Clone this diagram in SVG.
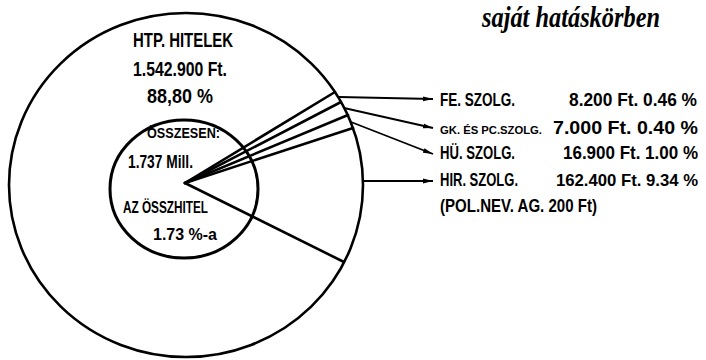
<svg xmlns="http://www.w3.org/2000/svg" width="706" height="360" viewBox="0 0 706 360">
<style>
.bg{fill:#fff}
.ring{fill:none;stroke:#000;stroke-width:2.6}
.inner{fill:none;stroke:#000;stroke-width:3}
.slice{stroke:#000;stroke-width:2.6;fill:none;stroke-linecap:round}
.lead{stroke:#000;stroke-width:1.8;fill:none}
.t{font-family:"Liberation Sans","DejaVu Sans",sans-serif;font-weight:bold;fill:#000}
.title{font-family:"Liberation Serif","DejaVu Serif",serif;font-weight:bold;font-style:italic;fill:#000}
</style>
<defs>
<marker id="arr" viewBox="0 0 10 6" refX="10" refY="3" markerWidth="10" markerHeight="6" markerUnits="userSpaceOnUse" orient="auto">
<path d="M0,0.6 L10,3 L0,5.4 Z" fill="#000"/>
</marker>
</defs>
<rect class="bg" x="0" y="0" width="706" height="360"/>
<text class="title" x="482" y="27" font-size="29" textLength="178" lengthAdjust="spacingAndGlyphs">saját hatáskörben</text>
<g id="pie-outer">
<ellipse class="ring" cx="186" cy="185" rx="177" ry="172"/>
<text class="t" x="133" y="47" font-size="20" textLength="100" lengthAdjust="spacingAndGlyphs">HTP. HITELEK</text>
<text class="t" x="133" y="76" font-size="20" textLength="94" lengthAdjust="spacingAndGlyphs">1.542.900 Ft.</text>
<text class="t" x="147" y="103" font-size="20" textLength="66" lengthAdjust="spacingAndGlyphs">88,80 %</text>
</g>
<g id="pie-inner">
<ellipse class="inner" cx="184" cy="189" rx="74" ry="69"/>
<text class="t" x="147" y="138" font-size="15" textLength="73" lengthAdjust="spacingAndGlyphs">ÖSSZESEN:</text>
<text class="t" x="128" y="168" font-size="18" textLength="65" lengthAdjust="spacingAndGlyphs">1.737 Mill.</text>
<text class="t" x="123" y="213" font-size="17" textLength="85" lengthAdjust="spacingAndGlyphs">AZ ÖSSZHITEL</text>
<text class="t" x="153" y="240" font-size="16" textLength="64" lengthAdjust="spacingAndGlyphs">1.73 %-a</text>
</g>
<g id="slices">
<line class="slice" x1="185" y1="183" x2="335" y2="92"/>
<line class="slice" x1="185" y1="183" x2="341" y2="102"/>
<line class="slice" x1="185" y1="183" x2="348" y2="115"/>
<line class="slice" x1="185" y1="183" x2="353" y2="128"/>
<line class="slice" x1="185" y1="183" x2="344" y2="262"/>
</g>
<g id="connectors">
<line class="lead" x1="339" y1="97" x2="433" y2="99" marker-end="url(#arr)"/>
<line class="lead" x1="344" y1="108" x2="433" y2="128" marker-end="url(#arr)"/>
<line class="lead" x1="351" y1="122" x2="433" y2="154" marker-end="url(#arr)"/>
<line class="lead" x1="363" y1="181" x2="433" y2="181" marker-end="url(#arr)"/>
</g>
<g id="label-fe">
<text class="t" x="440" y="106" font-size="19" textLength="75" lengthAdjust="spacingAndGlyphs">FE. SZOLG.</text>
<text class="t" x="569" y="106" font-size="18" textLength="128" lengthAdjust="spacingAndGlyphs">8.200 Ft. 0.46 %</text>
</g>
<g id="label-gk">
<text class="t" x="440" y="134" font-size="11.5" textLength="102" lengthAdjust="spacingAndGlyphs">GK. ÉS PC.SZOLG.</text>
<text class="t" x="553" y="134" font-size="18" textLength="145" lengthAdjust="spacingAndGlyphs">7.000 Ft. 0.40 %</text>
</g>
<g id="label-hu">
<text class="t" x="440" y="159" font-size="19" textLength="75" lengthAdjust="spacingAndGlyphs">HÜ. SZOLG.</text>
<text class="t" x="563" y="159" font-size="17.5" textLength="135" lengthAdjust="spacingAndGlyphs">16.900 Ft. 1.00 %</text>
</g>
<g id="label-hir">
<text class="t" x="440" y="186" font-size="19" textLength="78" lengthAdjust="spacingAndGlyphs">HIR. SZOLG.</text>
<text class="t" x="556" y="186" font-size="17" textLength="142" lengthAdjust="spacingAndGlyphs">162.400 Ft. 9.34 %</text>
<text class="t" x="440" y="212" font-size="19" textLength="157" lengthAdjust="spacingAndGlyphs">(POL.NEV. AG. 200 Ft)</text>
</g>
</svg>
